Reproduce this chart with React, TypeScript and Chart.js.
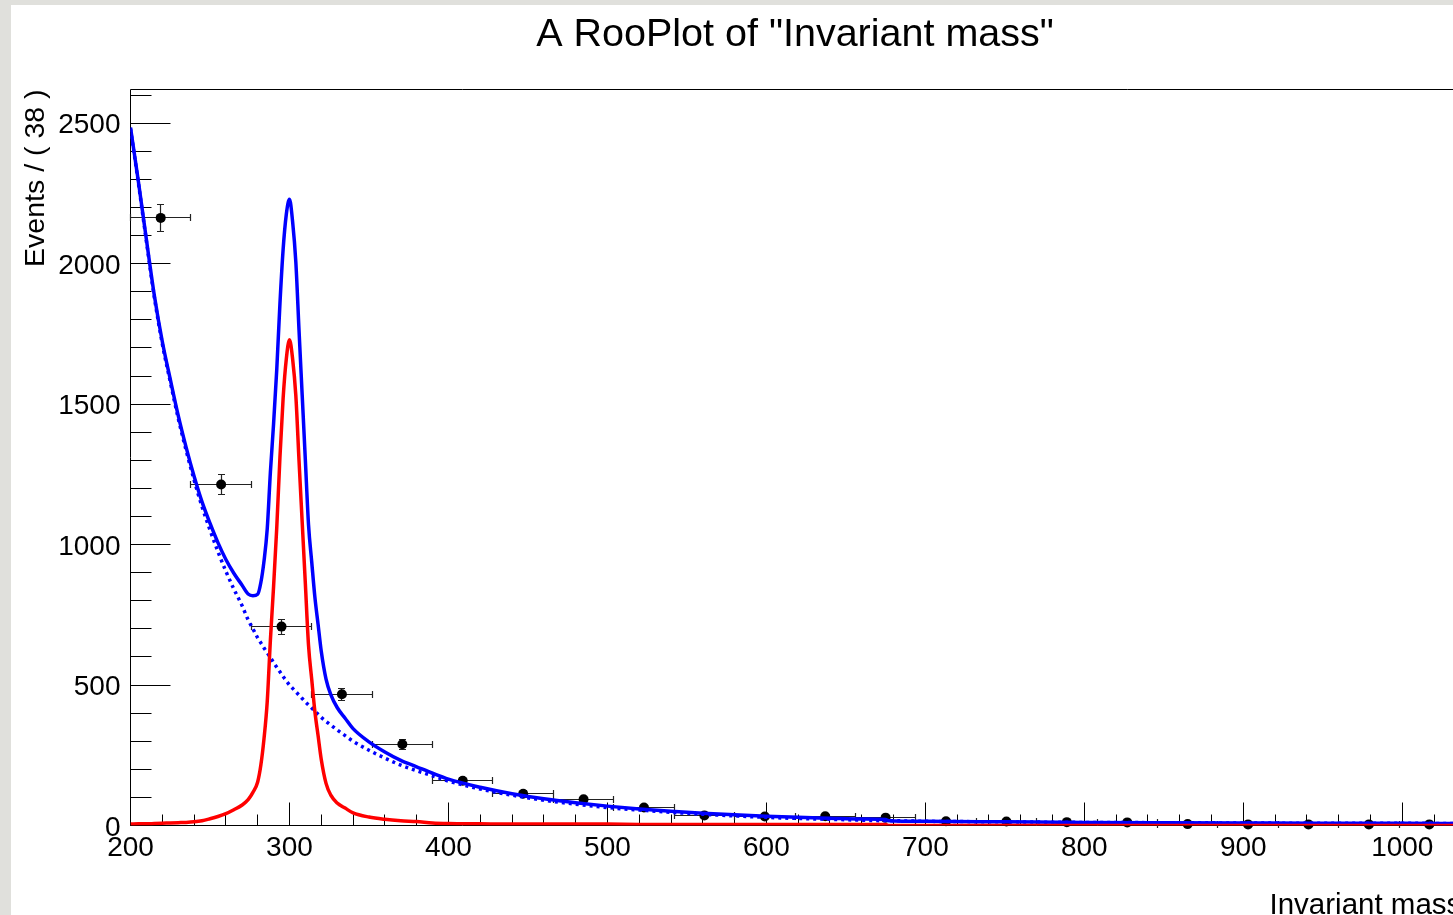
import React, { useEffect, useRef } from 'react';
import { Chart, registerables } from 'chart.js';

Chart.register(...registerables);

// ---- data ----
const BIN_CENTERS = [219, 257, 295, 333, 371, 409, 447, 485, 523, 561, 599, 637, 675, 713, 751, 789, 827, 865, 903, 941, 979, 1017];
const EVENTS = [2163, 1214, 708, 467, 289, 159, 113, 93, 64, 36, 32, 33, 28, 15, 14, 12, 11, 5, 4, 4, 4, 4];
const EVENT_ERRORS = [47, 35, 27, 22, 17, 13, 11, 10, 8, 6, 6, 6, 5, 4, 4, 3, 3, 2, 2, 2, 2, 2];
const BIN_WIDTH = 38;

const CURVE_X = [200, 205, 210, 215, 220, 225, 230, 235, 240, 245, 250, 255, 260, 265, 270, 274, 277, 280, 282, 284, 286, 288, 290, 292, 294, 296, 298, 300, 302, 304, 306, 308, 310, 312, 314, 316, 318, 320, 323, 326, 330, 335, 340, 350, 360, 370, 380, 390, 400, 420, 440, 460, 480, 500, 520, 540, 560, 580, 600, 620, 640, 660, 675, 677, 700, 750, 800, 850, 900, 950, 1000, 1036];
const BACKGROUND = [2480, 2285, 2080, 1880, 1715, 1580, 1450, 1335, 1230, 1135, 1052, 975, 905, 842, 785, 732, 700, 668, 650, 632, 615, 598, 580, 563, 547, 530, 515, 500, 488, 476, 464, 452, 440, 429, 418, 407, 396, 385, 371, 358, 340, 320, 300, 268, 240, 215, 195, 177, 158, 130, 108, 90, 76, 64, 55, 47, 40, 34, 29, 25, 22, 19, 17, 17, 15, 13, 11, 10, 9, 8, 8, 7];
const SIGNAL = [5, 6, 6, 7, 8, 9, 10, 11, 13, 17, 24, 32, 42, 56, 72, 92, 118, 155, 215, 310, 440, 660, 850, 1060, 1310, 1520, 1660, 1729, 1660, 1530, 1300, 1080, 860, 640, 520, 405, 320, 235, 150, 108, 80, 62, 45, 30, 22, 17, 14, 9, 7, 6, 5, 5, 5, 5, 4, 4, 4, 4, 4, 4, 4, 4, 4, 0, 0, 0, 0, 0, 0, 0, 0, 0];
const TOTAL = [2485, 2291, 2086, 1887, 1723, 1589, 1460, 1346, 1243, 1152, 1076, 1007, 947, 898, 857, 824, 818, 823, 865, 942, 1055, 1258, 1430, 1623, 1857, 2050, 2175, 2229, 2148, 2006, 1764, 1532, 1300, 1069, 938, 812, 716, 620, 521, 466, 420, 382, 345, 298, 262, 232, 209, 186, 165, 136, 113, 95, 81, 69, 59, 51, 44, 38, 33, 29, 26, 23, 21, 17, 15, 13, 11, 10, 9, 8, 8, 7];

const X_TICK_LABELS = [200, 300, 400, 500, 600, 700, 800, 900, 1000];
const Y_TICK_LABELS = [0, 500, 1000, 1500, 2000, 2500];

const X_MIN = 200;
const X_MAX = 1036;
const Y_MIN = 0;
const Y_MAX = 2620;

const TITLE = 'A RooPlot of "Invariant mass"';
const X_TITLE = 'Invariant mass';
const Y_TITLE = 'Events / ( 38 )';

const FONT = '"Liberation Sans", Arial, Helvetica, sans-serif';

const rootStyle = {
  id: 'rootStyle',
  beforeDatasetsDraw(chart: any) {
    const { ctx, chartArea: a, scales } = chart;
    const x = scales.x;
    const y = scales.y;
    ctx.save();
    ctx.strokeStyle = '#000';
    ctx.lineWidth = 1;
    // frame
    ctx.beginPath();
    ctx.moveTo(a.left, a.bottom);
    ctx.lineTo(a.left, a.top);
    ctx.lineTo(a.right, a.top);
    ctx.lineTo(a.right, a.bottom);
    ctx.closePath();
    ctx.stroke();
    // y ticks (inside)
    ctx.beginPath();
    for (let v = Y_MIN; v <= Y_MAX; v += 100) {
      const py = Math.floor(y.getPixelForValue(v)) + 0.5;
      const len = v % 500 === 0 ? 40 : 21;
      ctx.moveTo(a.left, py);
      ctx.lineTo(a.left + len, py);
    }
    // x ticks (inside)
    for (let v = X_MIN; v <= X_MAX; v += 20) {
      const px = Math.floor(x.getPixelForValue(v)) + 0.5;
      const len = v % 100 === 0 ? 23 : 11;
      ctx.moveTo(px, a.bottom);
      ctx.lineTo(px, a.bottom - len);
    }
    ctx.stroke();

    // error bars of the data points
    ctx.strokeStyle = '#222';
    ctx.lineWidth = 1.2;
    ctx.beginPath();
    for (let i = 0; i < BIN_CENTERS.length; i++) {
      const c = BIN_CENTERS[i];
      const v = EVENTS[i];
      const e = EVENT_ERRORS[i];
      const cx = Math.floor(x.getPixelForValue(c)) + 0.5;
      const lo = Math.floor(x.getPixelForValue(c - BIN_WIDTH / 2)) + 0.5;
      const hi = Math.floor(x.getPixelForValue(c + BIN_WIDTH / 2)) + 0.5;
      const cy = Math.floor(y.getPixelForValue(v)) + 0.5;
      const top = Math.floor(y.getPixelForValue(v + e)) + 0.5;
      const bot = Math.floor(y.getPixelForValue(Math.max(0, v - e))) + 0.5;
      ctx.moveTo(lo, cy);
      ctx.lineTo(hi, cy);
      ctx.moveTo(lo, cy - 3.5);
      ctx.lineTo(lo, cy + 3.5);
      ctx.moveTo(hi, cy - 3.5);
      ctx.lineTo(hi, cy + 3.5);
      ctx.moveTo(cx, top);
      ctx.lineTo(cx, bot);
      ctx.moveTo(cx - 3.5, top);
      ctx.lineTo(cx + 3.5, top);
      ctx.moveTo(cx - 3.5, bot);
      ctx.lineTo(cx + 3.5, bot);
    }
    ctx.stroke();
    ctx.restore();
  },
  afterDraw(chart: any) {
    const { ctx, chartArea: a, scales } = chart;
    const x = scales.x;
    const y = scales.y;
    ctx.save();
    ctx.fillStyle = '#000';
    // tick labels
    ctx.font = `28px ${FONT}`;
    ctx.textBaseline = 'alphabetic';
    ctx.textAlign = 'right';
    for (const v of Y_TICK_LABELS) {
      const py = y.getPixelForValue(v);
      ctx.fillText(String(v), a.left - 10, py + 10);
    }
    ctx.textAlign = 'center';
    for (const v of X_TICK_LABELS) {
      const px = x.getPixelForValue(v);
      ctx.fillText(String(v), px, a.bottom + 30);
    }
    // axis titles
    ctx.textAlign = 'left';
    ctx.font = `29.5px ${FONT}`;
    ctx.fillText(X_TITLE, 1269.5, 914);
    ctx.font = `28.5px ${FONT}`;
    ctx.save();
    ctx.translate(44, a.top);
    ctx.rotate(-Math.PI / 2);
    ctx.textAlign = 'right';
    ctx.fillText(Y_TITLE, 0, 0);
    ctx.restore();
    // main title
    ctx.font = `39.5px ${FONT}`;
    ctx.textAlign = 'center';
    ctx.fillText(TITLE, (a.left + a.right) / 2, 45.5);
    ctx.restore();
  },
};

export default function App() {
  const canvasRef = useRef<HTMLCanvasElement | null>(null);

  useEffect(() => {
    const canvas = canvasRef.current;
    if (!canvas) return;
    const pts = (ys: number[]) => CURVE_X.map((xv, i) => ({ x: xv, y: ys[i] }));
    const chart = new Chart(canvas, {
      type: 'scatter',
      data: {
        datasets: [
          {
            type: 'line',
            label: 'signal',
            data: pts(SIGNAL),
            borderColor: '#ff0000',
            borderWidth: 3.5,
            pointRadius: 0,
            cubicInterpolationMode: 'monotone',
            fill: false,
            order: 0,
          } as any,
          {
            type: 'line',
            label: 'background',
            data: pts(BACKGROUND),
            borderColor: '#0000ff',
            borderWidth: 3.5,
            borderDash: [3, 4],
            pointRadius: 0,
            cubicInterpolationMode: 'monotone',
            fill: false,
            order: 1,
          } as any,
          {
            type: 'line',
            label: 'total',
            data: pts(TOTAL),
            borderColor: '#0000ff',
            borderWidth: 3.5,
            pointRadius: 0,
            cubicInterpolationMode: 'monotone',
            fill: false,
            order: 2,
          } as any,
          {
            type: 'scatter',
            label: 'data',
            data: BIN_CENTERS.map((c, i) => ({ x: c, y: EVENTS[i] })),
            backgroundColor: '#000',
            borderColor: '#000',
            borderWidth: 0,
            pointRadius: 5,
            clip: false,
            order: 3,
          } as any,
        ],
      },
      options: {
        responsive: false,
        animation: false,
        events: [],
        layout: { padding: { left: 130.5, top: 89.5, right: 140.5, bottom: 134.5 } },
        plugins: { legend: { display: false }, tooltip: { enabled: false }, title: { display: false } },
        scales: {
          x: { type: 'linear', min: X_MIN, max: X_MAX, display: false },
          y: { type: 'linear', min: Y_MIN, max: Y_MAX, display: false },
        },
      },
      plugins: [rootStyle],
    });
    return () => chart.destroy();
  }, []);

  return (
    <div style={{ position: 'fixed', left: 0, top: 0, right: 0, bottom: 0, overflow: 'hidden', background: '#e0e0dc' }}>
      <div style={{ position: 'absolute', left: 11, top: 5, right: 0, bottom: 0, background: '#ffffff' }} />
      <canvas
        ref={canvasRef}
        width={1600}
        height={960}
        style={{ position: 'absolute', left: 0, top: 0, width: 1600, height: 960 }}
      />
    </div>
  );
}
